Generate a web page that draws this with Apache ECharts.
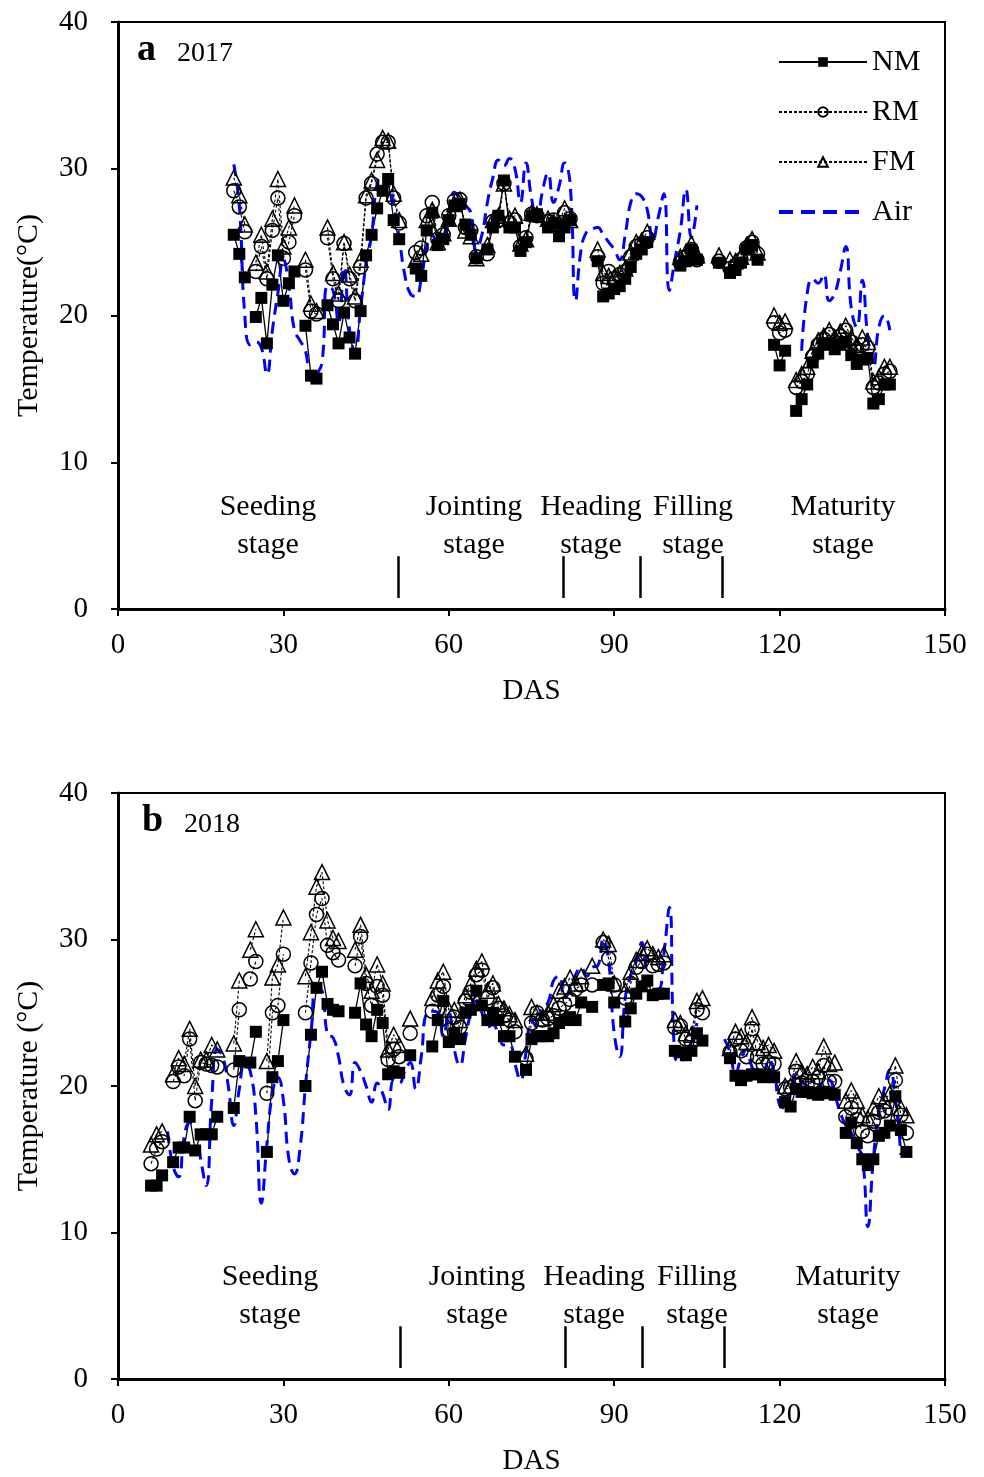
<!DOCTYPE html>
<html>
<head>
<meta charset="utf-8">
<script src="https://cdn.jsdelivr.net/npm/echarts@6/dist/echarts.min.js"></script>
<style>
  html, body { margin: 0; background: #fff; }
  #main { width: 984px; height: 1477px; }
</style>
</head>
<body>
<div id="main"></div>
<script>
// soil temperature under mulching, days after sowing (DAS)
const serif = 'Liberation Serif';

// 2017, daily values from DAS 21 to 140 (null = no record)
const start2017 = 21;
const nm2017 = [
  25.5, 24.2, 22.6, null, 19.9, 21.2, 18.1, 22.1, 24.1, 21.0,
  22.2, 23.0, null, 19.3, 15.9, 15.7, null, 20.7, 19.4, 18.1,
  20.2, 18.5, 17.4, 20.3, 24.1, 25.5, 27.3, 28.5, 29.3, 26.5,
  25.2, null, null, 23.2, 22.7, 25.8, 27.0, 24.8, 25.2, 26.5,
  27.5, 27.6, 26.2, 25.5, 23.9, null, 24.5, 26.0, 26.8, 29.2,
  26.0, 26.0, 24.4, 25.0, 26.8, 26.9, null, 26.0, 26.3, 25.4,
  26.0, 26.5, null, null, null, null, 23.7, 21.3, 21.5, 21.8,
  22.0, 22.5, 23.3, 24.2, 24.5, 25.0, null, null, null, null,
  null, 23.4, 23.7, 24.5, 23.8, null, null, null, 23.6, null,
  22.9, 23.1, 23.6, 24.5, 24.8, 23.8, null, null, 18.0, 16.6,
  17.6, null, 13.5, 14.3, 15.3, 16.8, 17.4, 18.0, 18.1, 17.7,
  18.0, 18.2, 17.3, 16.7, 17.0, 17.1, 14.0, 14.3, 15.3, 15.3
];
const rm2017 = [
  28.5, 27.4, 25.7, null, 23.0, 24.7, 22.5, 25.8, 28.0, 23.9,
  25.0, 26.8, null, 23.1, 20.3, 20.1, null, 25.3, 22.5, 21.0,
  24.9, 22.5, 21.0, 23.3, 28.0, 29.0, 31.0, 31.8, 31.8, 28.0,
  26.3, null, null, 24.3, 24.6, 26.8, 27.7, 25.2, 25.5, 26.8,
  27.8, 27.9, 26.0, 25.8, 24.0, null, 24.2, 26.4, 26.5, 29.0,
  26.3, 26.5, 24.7, 25.3, 26.9, 26.8, null, 26.4, 26.5, 26.0,
  27.0, 26.6, null, null, null, null, 24.0, 22.2, 23.0, 22.5,
  22.8, 23.0, 24.0, 24.7, 24.9, 25.3, null, null, null, null,
  null, 23.6, 24.0, 24.5, 23.8, null, null, null, 23.7, null,
  23.2, 23.4, 23.8, 24.6, 25.0, 24.2, null, null, 19.5, 18.8,
  19.0, null, 15.1, 15.5, 16.0, 17.2, 18.0, 18.4, 18.7, 18.2,
  18.6, 19.0, 18.2, 17.7, 18.0, 17.8, 15.1, 15.4, 16.0, 16.2
];
const fm2017 = [
  29.4, 28.2, 26.2, null, 23.6, 25.5, 23.0, 26.6, 29.3, 24.7,
  26.0, 27.5, null, 23.8, 20.8, 20.3, null, 26.0, 22.9, 21.5,
  25.0, 22.8, 21.3, 23.8, 28.2, 29.2, 30.6, 32.1, 31.9, 28.3,
  26.5, null, null, 23.8, 24.2, 26.5, 27.2, 25.0, 25.6, 26.6,
  27.6, 27.9, 25.8, 25.4, 23.9, null, 24.8, 26.5, 26.8, 29.0,
  26.6, 26.8, 24.9, 25.2, 27.0, 26.9, null, 26.6, 26.4, 26.3,
  27.3, 26.5, null, null, null, null, 24.5, 22.9, 22.7, 22.6,
  22.9, 23.2, 24.3, 25.0, 25.1, 25.7, null, null, null, null,
  null, 24.0, 24.3, 24.9, 24.1, null, null, null, 24.1, null,
  23.8, 23.7, 24.0, 24.8, 25.2, 24.3, null, null, 20.0, 19.5,
  19.6, null, 15.6, 16.0, 16.5, 17.6, 18.3, 18.6, 19.0, 18.5,
  18.9, 19.3, 18.5, 18.0, 18.5, 18.2, 15.5, 15.8, 16.5, 16.5
];
const air2017 = [
  30.3, 27.5, 20.0, 18.0, 18.2, 17.8, 16.0, 19.0, 21.5, 23.8,
  22.0, 19.0, 18.3, 17.6, 15.6, 16.0, 16.8, 22.0, 21.7, 19.5,
  23.3, 19.0, 17.5, 20.5, 23.5, 25.5, 29.0, 29.5, 29.0, 27.5,
  25.3, 22.8, 21.5, 21.3, 22.5, 24.7, 25.5, 24.5, 24.9, 26.5,
  28.4, 28.0, 27.5, 27.0, 24.5, 25.5, 27.7, 29.4, 30.6, 30.2,
  30.7, 30.0, 27.7, 30.4, 28.0, 26.5, 28.5, 29.7, 27.7, 28.8,
  30.4, 29.0, 21.0, 24.5, 25.7, 25.9, 26.0, 25.5, 25.0, 24.5,
  23.8, 25.5, 27.7, 28.3, 28.1, 27.2, 25.1, 26.7, 28.3, 21.7,
  23.8, 25.8, 28.6, 25.3, 27.5, null, null, null, null, null,
  null, null, null, null, null, null, null, null, null, null,
  null, null, null, 17.6, 21.5, 22.5, 22.2, 22.8, 21.0, 21.5,
  23.0, 24.7, 20.5, 19.2, 22.4, 18.5, 16.5, 19.2, 20.0, 19.0
];

// 2018, daily values from DAS 6 to 143
const start2018 = 6;
const nm2018 = [
  13.2, 13.2, 13.9, null, 14.8, 15.8, 15.8, 17.9, 15.6, 16.7,
  16.7, 16.7, 17.9, null, null, 18.5, 21.7, null, 21.6, 23.7,
  null, 15.5, 20.6, 21.7, 24.5, null, null, null, 20.0, 23.5,
  26.7, 27.8, 25.6, 25.2, 25.1, null, null, 25.0, 27.0, 24.2,
  23.4, 25.2, 24.3, 20.8, 21.0, 20.9, null, 22.1, null, null,
  null, 22.7, 24.5, 25.8, 23.0, 23.6, 23.2, 25.0, 25.2, 26.5,
  25.5, 24.5, 25.0, 24.5, 23.4, 23.4, 22.0, null, 21.1, 23.2,
  23.4, 23.4, 23.4, 23.6, 24.3, 24.5, 24.7, 24.5, 25.7, null,
  25.4, null, 26.9, 27.0, 25.7, null, 24.4, 25.3, 26.3, 26.8,
  27.2, 26.2, 26.3, 26.3, null, 22.4, 22.3, 22.1, 22.4, 23.6,
  23.1, null, null, null, null, 21.9, 20.7, 20.4, 20.7, 20.8,
  20.8, 20.6, 20.7, 20.6, null, 18.9, 18.6, 19.8, 19.6, 19.6,
  19.5, 19.4, 19.6, 19.5, 19.4, null, 16.8, 17.5, 16.1, 15.0,
  14.6, 15.0, 16.6, 16.8, 17.3, 19.3, 17.0, 15.5
];
const rm2018 = [
  14.7, 15.7, 16.2, null, 20.3, 21.3, 20.7, 23.2, 19.0, 21.6,
  21.5, 21.4, 21.3, null, null, 21.1, 25.2, null, 27.3, 28.5,
  null, 19.5, 25.0, 25.5, 29.0, null, null, null, 25.0, 28.4,
  31.7, 32.8, 29.6, 29.1, 28.6, null, null, 28.2, 30.2, 27.0,
  25.5, 26.8, 26.2, 21.8, 22.5, 22.0, null, 23.6, null, null,
  null, 25.1, 26.2, 26.8, 23.8, 24.7, 24.0, 25.8, 26.4, 27.6,
  27.9, 26.0, 26.7, 25.3, 24.8, 24.5, 23.7, null, 21.9, 24.3,
  25.0, 24.5, 24.6, 24.8, 25.3, 25.6, 25.9, 26.6, 26.9, null,
  26.9, null, 29.8, 28.7, 26.9, null, 26.0, 27.0, 28.1, 28.5,
  29.0, 28.2, 28.3, 28.4, null, 24.0, 24.1, 23.2, 23.0, 25.2,
  25.0, null, null, null, null, 22.3, 23.2, 22.4, 22.0, 23.9,
  22.0, 21.5, 21.6, 21.5, null, 19.8, 19.9, 21.0, 20.2, 20.0,
  20.3, 20.6, 21.4, 20.3, 20.3, null, 17.9, 18.5, 17.7, 16.9,
  16.6, 17.6, 18.2, 18.3, 18.5, 20.4, 18.0, 16.8
];
const fm2018 = [
  16.0, 16.7, 16.9, null, 20.8, 21.9, 21.5, 23.9, 20.0, 21.8,
  21.8, 22.8, 22.5, null, null, 22.9, 27.2, null, 29.3, 30.7,
  null, 21.7, 27.4, 28.3, 31.5, null, null, null, 27.5, 30.5,
  33.6, 34.6, 31.3, 30.1, 29.9, null, null, 29.3, 31.0, 27.6,
  26.5, 28.3, 27.0, 22.5, 23.5, 22.8, null, 24.6, null, null,
  null, 26.0, 27.2, 27.8, 25.2, 25.2, 24.5, 26.2, 27.0, 28.0,
  28.5, 26.5, 27.0, 25.6, 25.3, 24.9, 24.5, null, 22.2, 25.4,
  25.0, 24.6, 25.0, 25.6, 26.5, 26.8, 27.4, 27.0, 27.5, null,
  28.2, null, 30.0, 29.7, 27.0, null, 26.5, 27.8, 28.6, 29.1,
  29.4, 29.0, 28.8, 29.0, null, 24.5, 24.3, 23.6, 23.5, 25.8,
  26.0, null, null, null, null, 22.6, 23.7, 23.4, 23.0, 24.7,
  23.0, 22.6, 22.8, 22.4, null, 20.0, 20.0, 21.7, 21.0, 20.8,
  21.3, 21.0, 22.7, 21.5, 21.6, null, 19.0, 19.7, 19.0, 18.0,
  17.8, 18.5, 19.3, 19.0, 19.5, 21.4, 18.5, 18.0
];
const air2018 = [
  null, null, null, 16.9, 14.5, 13.8, 16.5, 17.5, 17.2, 15.0,
  13.2, 19.0, 22.5, 22.0, 20.0, 17.3, 19.8, 21.5, 21.0, 18.0,
  12.0, 16.0, 19.5, 20.6, 19.0, 15.0, 14.0, 15.7, 20.0, 23.6,
  26.6, 26.5, 23.5, 23.3, 22.0, 20.0, 19.4, 21.6, 21.0, 20.0,
  18.9, 20.2, 19.5, 18.4, 20.4, 20.2, 21.0, 21.6, 19.8, 22.0,
  25.0, 25.1, 25.0, 23.4, 25.0, 22.5, 21.4, 23.2, 25.0, 25.8,
  25.0, 24.0, 24.2, 23.5, 22.8, 22.8, 21.5, 20.4, 22.3, 24.5,
  24.0, 25.4, 25.7, 27.2, 27.5, 26.0, 26.6, 27.6, 28.1, 27.5,
  28.1, 28.2, 30.0, 28.5, 23.6, 22.0, 26.0, 27.5, 28.5, 29.8,
  27.5, 26.6, 26.6, 29.0, 32.2, 22.0, 21.6, 22.5, 23.0, 24.3,
  null, null, null, null, 23.2, 22.3, 20.8, 21.9, 22.5, 21.3,
  21.0, 21.0, 21.8, 21.0, 18.7, 18.5, 19.5, 20.9, 20.3, 20.0,
  19.8, 19.9, 20.3, 20.4, 19.4, 18.2, 17.3, 16.8, 15.9, 15.2,
  10.4, 15.0, 18.2, 19.8, 21.1, 19.1, 15.3, null
];

// stage boundaries (DAS) and stage names
const bounds2017 = [50.8, 80.7, 94.7, 109.6];
const bounds2018 = [51.2, 81.1, 95.0, 110.0];
const stageNames = ['Seeding', 'Jointing', 'Heading', 'Filling', 'Maturity'];

function pairs(start, vals) {
  return vals.map((v, i) => [start + i, v]);
}

const looks = {
  NM: { symbol: 'rect', symbolSize: 12,
        itemStyle: { color: '#000' },
        lineStyle: { color: '#000', width: 1.3, type: 'solid' } },
  RM: { symbol: 'circle', symbolSize: 14,
        itemStyle: { color: 'rgba(255,255,255,0)', borderColor: '#000', borderWidth: 1.5 },
        lineStyle: { color: '#000', width: 1.1, type: [3, 2] } },
  FM: { symbol: 'triangle', symbolSize: 15,
        itemStyle: { color: 'rgba(255,255,255,0)', borderColor: '#000', borderWidth: 1.5 },
        lineStyle: { color: '#000', width: 1.1, type: [3, 2] } },
  Air: { symbol: 'none', smooth: true,
         itemStyle: { color: '#0000ff' },
         lineStyle: { color: '#0000ff', width: 3, type: [12, 7] } }
};

function line(name, data, idx) {
  return Object.assign({
    name: name,
    type: 'line',
    xAxisIndex: idx,
    yAxisIndex: idx,
    data: data,
    connectNulls: false,
    showAllSymbol: true,
    emphasis: { disabled: true },
    silent: true
  }, looks[name]);
}

function boundLines(bounds, idx) {
  return {
    name: 'stages' + idx,
    type: 'line',
    xAxisIndex: idx,
    yAxisIndex: idx,
    data: [],
    silent: true,
    markLine: {
      symbol: 'none',
      silent: true,
      label: { show: false },
      lineStyle: { color: '#000', width: 2.5, type: 'solid' },
      data: bounds.map(b => [{ coord: [b, 0.75] }, { coord: [b, 3.6] }])
    }
  };
}

function xAxis(idx) {
  return {
    gridIndex: idx, type: 'value', min: 0, max: 150, interval: 30,
    name: 'DAS', nameLocation: 'middle', nameGap: 68,
    nameTextStyle: { fontFamily: serif, fontSize: 29, color: '#000' },
    axisLine: { lineStyle: { color: '#000', width: 3 } },
    axisTick: { show: true, inside: false, length: 7, lineStyle: { color: '#000', width: 2 } },
    axisLabel: { fontFamily: serif, fontSize: 29, color: '#000', margin: 22 },
    splitLine: { show: false }
  };
}

function yAxis(idx, title) {
  return {
    gridIndex: idx, type: 'value', min: 0, max: 40, interval: 10,
    name: title, nameLocation: 'middle', nameGap: 74, nameRotate: 90,
    nameTextStyle: { fontFamily: serif, fontSize: 30, color: '#000' },
    axisLine: { show: true, lineStyle: { color: '#000', width: 3 } },
    axisTick: { show: true, inside: false, length: 7, lineStyle: { color: '#000', width: 2 } },
    axisLabel: { fontFamily: serif, fontSize: 29, color: '#000', margin: 30 },
    splitLine: { show: false }
  };
}

// stage captions, two lines each, centred over the stage
const captionX2017 = [268, 474, 591, 693, 843];
const captionX2018 = [270, 477, 594, 697, 848];
function captions(xs, y1, y2) {
  const out = [];
  xs.forEach((x, i) => {
    out.push({ type: 'text', x: x, y: y1, style: { text: stageNames[i], font: '30px "Liberation Serif"', fill: '#000', align: 'center', verticalAlign: 'middle' } });
    out.push({ type: 'text', x: x, y: y2, style: { text: 'stage', font: '30px "Liberation Serif"', fill: '#000', align: 'center', verticalAlign: 'middle' } });
  });
  return out;
}

const chart = echarts.init(document.getElementById('main'), null, { renderer: 'canvas' });

const option = {
  animation: false,
  backgroundColor: '#fff',
  grid: [
    { left: 118, right: 39, top: 22, height: 587, show: true, borderColor: '#000', borderWidth: 2, backgroundColor: 'transparent' },
    { left: 118, right: 39, top: 793, height: 587, show: true, borderColor: '#000', borderWidth: 2, backgroundColor: 'transparent' }
  ],
  xAxis: [xAxis(0), xAxis(1)],
  yAxis: [yAxis(0, 'Temperature(°C)'), yAxis(1, 'Temperature (°C)')],
  legend: {
    data: [
      'NM', 'RM', 'FM',
      { name: 'Air', itemStyle: { color: 'rgba(0,0,0,0)', borderWidth: 0 },
        lineStyle: { color: '#0000ff', width: 4, type: [14, 8] } }
    ],
    orient: 'vertical',
    left: 772,
    top: 42,
    itemWidth: 88,
    itemHeight: 12,
    itemGap: 20,
    textStyle: { fontFamily: serif, fontSize: 30, color: '#000', lineHeight: 30, padding: [0, 0, 0, 0] }
  },
  graphic: [
    { type: 'text', left: 137, top: 31, style: { text: 'a', font: 'bold 38px "Liberation Serif"', fill: '#000' } },
    { type: 'text', left: 177, top: 40, style: { text: '2017', font: '28px "Liberation Serif"', fill: '#000' } },
    { type: 'text', left: 142, top: 802, style: { text: 'b', font: 'bold 38px "Liberation Serif"', fill: '#000' } },
    { type: 'text', left: 184, top: 811, style: { text: '2018', font: '28px "Liberation Serif"', fill: '#000' } }
  ].concat(captions(captionX2017, 507, 545), captions(captionX2018, 1277, 1315)),
  series: [
    line('NM', pairs(start2017, nm2017), 0),
    line('RM', pairs(start2017, rm2017), 0),
    line('FM', pairs(start2017, fm2017), 0),
    line('Air', pairs(start2017, air2017), 0),
    boundLines(bounds2017, 0),
    line('NM', pairs(start2018, nm2018), 1),
    line('RM', pairs(start2018, rm2018), 1),
    line('FM', pairs(start2018, fm2018), 1),
    line('Air', pairs(start2018, air2018), 1),
    boundLines(bounds2018, 1)
  ]
};

chart.setOption(option);
</script>
</body>
</html>
